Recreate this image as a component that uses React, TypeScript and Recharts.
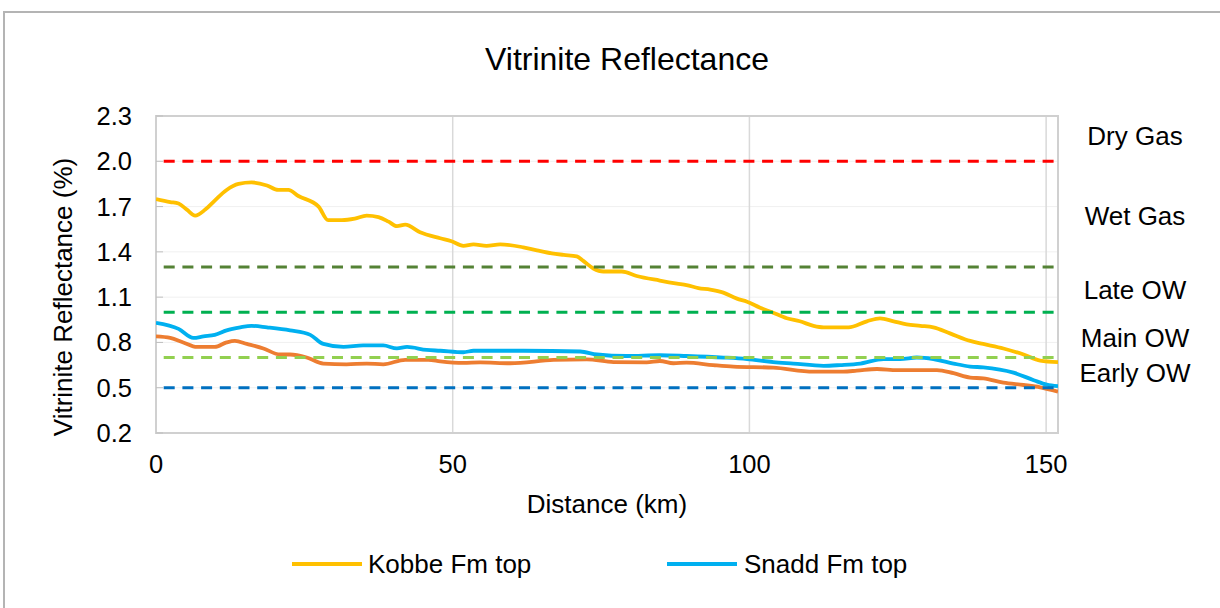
import { LineChart, Line, XAxis, YAxis, CartesianGrid, ReferenceLine, ReferenceArea } from 'recharts';

const FONT = '"Liberation Sans", Arial, sans-serif';

// distance along profile (km) and vitrinite reflectance (%Ro) per horizon
const kobbeKm = [0, 2.4, 3.8, 5.2, 6.6, 8.3, 9.9, 11.9, 13.9, 16.1, 18.7, 20.6, 22.3, 24.0, 27.4, 29.0, 31.3, 33.5, 35.5, 37.5, 39.2, 40.6, 42.0, 44.5, 47.9, 49.8, 51.8, 53.5, 55.7, 58.0, 61.9, 64.2, 66.7, 68.7, 70.9, 72.0, 73.7, 75.4, 78.5, 81.0, 84.9, 87.8, 89.4, 91.4, 93.4, 95.6, 97.9, 99.6, 101.8, 103.8, 106.3, 108.5, 110.8, 112.5, 116.7, 119.8, 122.0, 124.3, 126.5, 128.8, 131.0, 133.8, 137.2, 139.4, 142.8, 146.2, 149.0, 152];
const kobbeRo = [1.75, 1.73, 1.72, 1.68, 1.64, 1.68, 1.74, 1.81, 1.85, 1.86, 1.84, 1.81, 1.81, 1.77, 1.70, 1.61, 1.61, 1.62, 1.64, 1.63, 1.60, 1.57, 1.58, 1.53, 1.49, 1.47, 1.44, 1.45, 1.44, 1.45, 1.43, 1.41, 1.39, 1.38, 1.37, 1.34, 1.29, 1.27, 1.27, 1.24, 1.21, 1.19, 1.18, 1.16, 1.15, 1.13, 1.09, 1.07, 1.03, 1.00, 0.96, 0.94, 0.91, 0.90, 0.90, 0.94, 0.96, 0.94, 0.92, 0.91, 0.90, 0.86, 0.81, 0.79, 0.76, 0.72, 0.68, 0.67];

const snaddKm = [0, 3.8, 6.3, 8.0, 9.9, 11.9, 14.2, 16.1, 18.7, 22.6, 26.0, 28.2, 31.6, 34.9, 38.3, 40.6, 42.3, 45.6, 47.9, 51.8, 53.5, 61.9, 71.5, 74.3, 79.3, 84.9, 89.4, 95.6, 99.6, 104.0, 107.4, 112.5, 115.3, 118.7, 122.6, 125.4, 128.2, 131.0, 134.4, 137.2, 139.4, 144.5, 147.9, 150.1, 152];
const snaddRo = [0.93, 0.89, 0.83, 0.84, 0.85, 0.88, 0.90, 0.91, 0.90, 0.88, 0.85, 0.79, 0.77, 0.78, 0.78, 0.76, 0.77, 0.75, 0.745, 0.735, 0.745, 0.745, 0.74, 0.72, 0.71, 0.715, 0.71, 0.70, 0.69, 0.67, 0.66, 0.645, 0.65, 0.66, 0.69, 0.69, 0.70, 0.69, 0.66, 0.64, 0.635, 0.60, 0.55, 0.52, 0.51];

const lowerKm = [0, 2.4, 4.6, 6.9, 9.9, 11.9, 13.3, 15.3, 18.1, 20.9, 22.6, 25.4, 28.2, 32.1, 35.5, 38.3, 42.0, 45.9, 47.9, 51.8, 54.6, 59.7, 67.0, 72.6, 77.1, 82.7, 84.9, 87.2, 89.4, 93.9, 97.3, 104.0, 110.8, 115.8, 118.1, 121.5, 124.9, 131.6, 134.4, 137.2, 139.4, 142.8, 146.2, 149.0, 152];
const lowerRo = [0.84, 0.83, 0.80, 0.77, 0.77, 0.80, 0.81, 0.79, 0.76, 0.72, 0.72, 0.70, 0.66, 0.655, 0.66, 0.655, 0.685, 0.685, 0.675, 0.665, 0.668, 0.662, 0.684, 0.688, 0.67, 0.668, 0.677, 0.662, 0.666, 0.65, 0.64, 0.633, 0.607, 0.607, 0.613, 0.624, 0.617, 0.617, 0.596, 0.567, 0.562, 0.533, 0.518, 0.503, 0.474];

// maturity window boundaries and labels
const zoneLimits = [2.0, 1.3, 1.0, 0.7, 0.5];
const zoneColors = ['#FF0000', '#548235', '#00B050', '#92D050', '#0070C0'];
const zoneNames = ['Dry Gas', 'Wet Gas', 'Late OW', 'Main OW', 'Early OW'];
const zoneLabelRo = [2.17, 1.64, 1.15, 0.83, 0.6];

const xTicks = [0, 50, 100, 150];
const yTicks = [0.2, 0.5, 0.8, 1.1, 1.4, 1.7, 2.0, 2.3];

const toPoints = (km: number[], ro: number[]) => km.map((d, i) => ({ km: d, ro: ro[i] }));

function ZoneTick({ x, y, payload }: any) {
  const i = zoneLabelRo.indexOf(payload.value);
  return (
    <text x={x + 77} y={y} textAnchor="middle" dominantBaseline="central" fontSize={26} fill="#000" fontFamily={FONT}>
      {zoneNames[i]}
    </text>
  );
}

const abs = (left: number, top: number, size: number): React.CSSProperties => ({
  position: 'absolute', left, top, fontSize: size, lineHeight: 1, whiteSpace: 'nowrap', color: '#000',
});

export default function App() {
  const kobbe = toPoints(kobbeKm, kobbeRo);
  const snadd = toPoints(snaddKm, snaddRo);
  const lower = toPoints(lowerKm, lowerRo);

  return (
    <div style={{ position: 'absolute', left: 0, top: 0, width: 1220, height: 608, overflow: 'hidden', background: '#fff', fontFamily: FONT }}>
      <div style={{ position: 'absolute', left: 3, top: 11, width: 1300, height: 700, borderTop: '2px solid #B4B4B4', borderLeft: '2px solid #B4B4B4' }} />
      <LineChart width={1220} height={608} margin={{ top: 116, right: 0, bottom: 115, left: 56 }} style={{ position: 'absolute', left: 0, top: 0 }}>
        <CartesianGrid yAxisId="ro" vertical={false} stroke="#F0F0F0" strokeWidth={1} />
        <CartesianGrid yAxisId="ro" horizontal={false} stroke="#D9D9D9" strokeWidth={1.5} />
        <XAxis
          dataKey="km" type="number" domain={[0, 152]} ticks={xTicks} interval={0} allowDataOverflow
          axisLine={false} tickLine={false} tickSize={0} tickMargin={22} height={60}
          tick={{ fontSize: 25.5, fill: '#000', fontFamily: FONT }}
        />
        <YAxis
          yAxisId="ro" domain={[0.2, 2.3]} ticks={yTicks} interval={0} allowDataOverflow width={100}
          axisLine={false} tickLine={{ stroke: '#BFBFBF' }} tickSize={-7} tickMargin={31}
          tickFormatter={(v: number) => v.toFixed(1)}
          tick={{ fontSize: 25.5, fill: '#000', fontFamily: FONT }}
        />
        <YAxis
          yAxisId="zone" orientation="right" domain={[0.2, 2.3]} ticks={zoneLabelRo} interval={0} allowDataOverflow width={162}
          axisLine={false} tickLine={false} tickSize={0} tickMargin={0} tick={ZoneTick}
        />
        <ReferenceArea yAxisId="ro" x1={0} x2={152} y1={0.2} y2={2.3} fill="none" stroke="#D0D0D0" strokeWidth={2} />
        <Line yAxisId="ro" data={kobbe} dataKey="ro" type="monotone" stroke="#FFC000" strokeWidth={3.8} dot={false} isAnimationActive={false} />
        <Line yAxisId="ro" data={snadd} dataKey="ro" type="monotone" stroke="#00B0F0" strokeWidth={3.8} dot={false} isAnimationActive={false} />
        <Line yAxisId="ro" data={lower} dataKey="ro" type="monotone" stroke="#ED7D31" strokeWidth={3.8} dot={false} isAnimationActive={false} />
        {zoneLimits.map((v, i) => (
          <ReferenceLine key={v} yAxisId="ro" y={v} stroke={zoneColors[i]} strokeWidth={3} strokeDasharray="11 7.7" strokeDashoffset={11} />
        ))}
      </LineChart>

      <div style={{ ...abs(627, 43, 32), transform: 'translateX(-50%)' }}>Vitrinite Reflectance</div>
      <div style={{ ...abs(607, 491, 26), transform: 'translateX(-50%)' }}>Distance (km)</div>
      <div style={{ ...abs(63, 297, 26), transform: 'translate(-50%, -50%) rotate(-90deg)' }}>Vitrinite Reflectance (%)</div>

      <div style={{ position: 'absolute', left: 292, top: 562, width: 70, height: 4, background: '#FFC000' }} />
      <div style={abs(368, 551, 26)}>Kobbe Fm top</div>
      <div style={{ position: 'absolute', left: 667, top: 562, width: 70, height: 4, background: '#00B0F0' }} />
      <div style={abs(744, 551, 26)}>Snadd Fm top</div>
    </div>
  );
}
